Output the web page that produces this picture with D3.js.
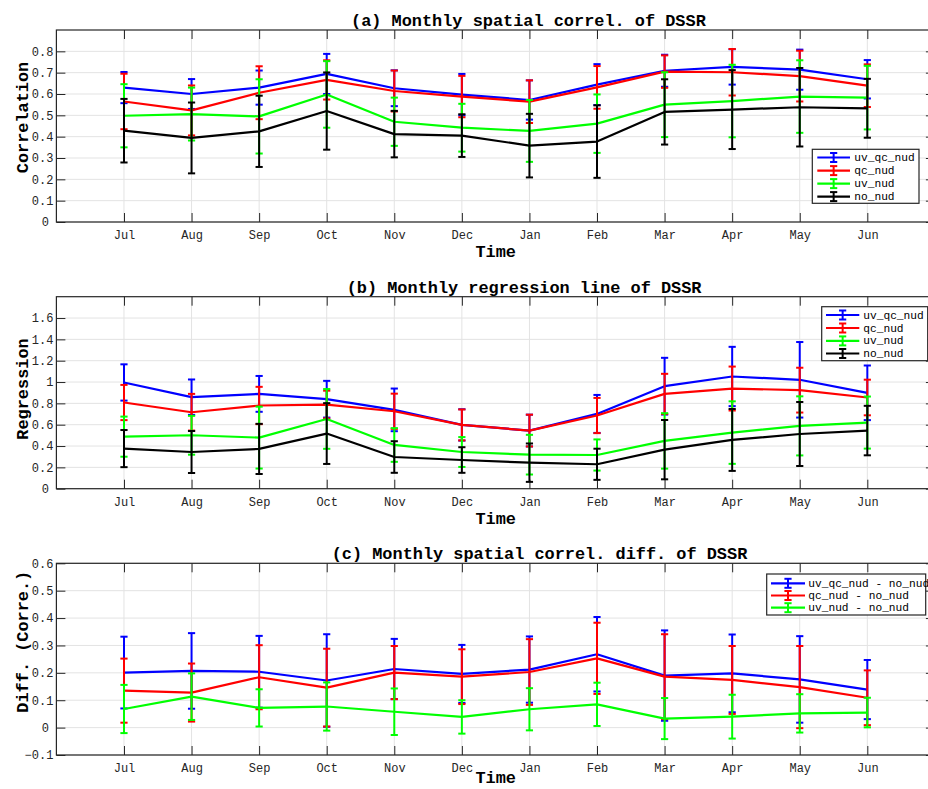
<!DOCTYPE html>
<html>
<head>
<meta charset="utf-8">
<script src="https://cdn.jsdelivr.net/npm/d3@7"></script>
<style>
  html, body { margin: 0; padding: 0; background: #fff; }
  svg { display: block; }
</style>
</head>
<body>
<svg id="chart" width="928" height="789"></svg>
<script>
// ---------------- data ----------------
const months = ["Jul","Aug","Sep","Oct","Nov","Dec","Jan","Feb","Mar","Apr","May","Jun"];

// (a) Monthly spatial correlation
const corrUvQcNud    = [0.630,0.600,0.630,0.694,0.627,0.597,0.572,0.644,0.709,0.727,0.714,0.669];
const corrUvQcNudErr = [0.073,0.070,0.080,0.094,0.084,0.097,0.092,0.096,0.075,0.083,0.094,0.090];
const corrQcNud      = [0.565,0.523,0.606,0.666,0.614,0.588,0.564,0.631,0.705,0.702,0.684,0.639];
const corrQcNudErr   = [0.130,0.117,0.124,0.092,0.096,0.097,0.100,0.100,0.076,0.109,0.119,0.100];
const corrUvNud      = [0.498,0.506,0.495,0.598,0.470,0.442,0.427,0.461,0.550,0.567,0.588,0.583];
const corrUvNudErr   = [0.148,0.124,0.174,0.156,0.113,0.112,0.145,0.137,0.152,0.170,0.170,0.149];
const corrNoNud      = [0.428,0.394,0.425,0.520,0.412,0.405,0.358,0.377,0.516,0.527,0.538,0.533];
const corrNoNudErr   = [0.149,0.166,0.167,0.181,0.109,0.100,0.149,0.170,0.153,0.185,0.184,0.138];

// (b) Monthly regression line
const regUvQcNud    = [0.996,0.858,0.889,0.839,0.739,0.598,0.545,0.701,0.961,1.052,1.021,0.899];
const regUvQcNudErr = [0.170,0.166,0.168,0.172,0.200,0.147,0.149,0.178,0.266,0.278,0.354,0.256];
const regQcNud      = [0.808,0.717,0.780,0.789,0.726,0.598,0.545,0.686,0.889,0.939,0.924,0.855];
const regQcNudErr   = [0.165,0.172,0.175,0.130,0.165,0.145,0.149,0.165,0.188,0.206,0.210,0.167];
const regUvNud      = [0.488,0.501,0.479,0.654,0.410,0.344,0.319,0.316,0.448,0.526,0.589,0.620];
const regUvNudErr   = [0.188,0.182,0.290,0.280,0.158,0.140,0.186,0.146,0.260,0.293,0.277,0.244];
const regNoNud      = [0.376,0.344,0.373,0.517,0.297,0.269,0.244,0.229,0.366,0.457,0.513,0.545];
const regNoNudErr   = [0.174,0.197,0.235,0.285,0.148,0.120,0.180,0.146,0.278,0.290,0.300,0.232];

// (c) Monthly spatial correlation difference
const diffUvQc    = [0.201,0.207,0.204,0.172,0.214,0.196,0.212,0.268,0.190,0.198,0.176,0.139];
const diffUvQcErr = [0.131,0.138,0.131,0.169,0.110,0.106,0.121,0.136,0.165,0.142,0.158,0.108];
const diffQc      = [0.135,0.128,0.184,0.146,0.201,0.186,0.203,0.253,0.186,0.174,0.148,0.109];
const diffQcErr   = [0.117,0.106,0.117,0.142,0.097,0.100,0.120,0.130,0.155,0.124,0.150,0.100];
const diffUv      = [0.068,0.113,0.072,0.077,0.058,0.039,0.067,0.085,0.033,0.040,0.052,0.055];
const diffUvErr   = [0.088,0.085,0.068,0.088,0.085,0.061,0.077,0.079,0.075,0.080,0.070,0.054];

const namesA = ["uv_qc_nud","qc_nud","uv_nud","no_nud"];
const namesC = ["uv_qc_nud - no_nud","qc_nud - no_nud","uv_nud - no_nud"];
const colorsA = ["#0000ff","#ff0000","#00ff00","#000000"];

const ticksA = [0,0.1,0.2,0.3,0.4,0.5,0.6,0.7,0.8];
const ticksB = [0,0.2,0.4,0.6,0.8,1,1.2,1.4,1.6];
const ticksC = [-0.1,0,0.1,0.2,0.3,0.4,0.5,0.6];

// ---------------- layout ----------------
const FONT = "'Liberation Mono','Courier New',monospace";
const svg = d3.select("#chart");
svg.append("rect").attr("width",928).attr("height",789).attr("fill","#fff");

const left = 56.4, right = 934.9;
const x = d3.scaleLinear().domain([0,13]).range([left,right]);

const panels = [
  { top:30, bottom:222, domain:[0,0.9], ticks:ticksA,
    title:"(a) Monthly spatial correl. of DSSR", titleX:351,
    ylabel:"Correlation", ylabelY:117.5, timeY:257.3,
    series:[[corrUvQcNud,corrUvQcNudErr],[corrQcNud,corrQcNudErr],[corrUvNud,corrUvNudErr],[corrNoNud,corrNoNudErr]],
    names:namesA, legend:{x0:812.3,x1:919,y0:149.3,y1:203.3,lx0:817.3,lx1:850,tx:854.3,ys:[157.5,170.6,183.6,196.6]} },
  { top:296.7, bottom:488.7, domain:[0,1.8], ticks:ticksB,
    title:"(b) Monthly regression line of DSSR", titleX:346.7,
    ylabel:"Regression", ylabelY:389, timeY:524,
    series:[[regUvQcNud,regUvQcNudErr],[regQcNud,regQcNudErr],[regUvNud,regUvNudErr],[regNoNud,regNoNudErr]],
    names:namesA, legend:{x0:821.7,x1:927.7,y0:306.7,y1:360.7,lx0:826,lx1:859.3,tx:863.3,ys:[315,328,340.9,353.5]} },
  { top:563.3, bottom:755, domain:[-0.1,0.6], ticks:ticksC,
    title:"(c) Monthly spatial correl. diff. of DSSR", titleX:331.7,
    ylabel:"Diff. (Corre.)", ylabelY:641.7, timeY:783,
    series:[[diffUvQc,diffUvQcErr],[diffQc,diffQcErr],[diffUv,diffUvErr]],
    names:namesC, legend:{x0:766.7,x1:925.7,y0:574,y1:615,lx0:771,lx1:805,tx:808.3,ys:[583.3,595.5,607.7]} }
];

const fmt = v => {
  if (Math.abs(v) < 1e-9) return "0";
  const s = d3.format("")(+v.toFixed(2));
  return s.replace("-", "\u2212");
};

panels.forEach(p => {
  const y = d3.scaleLinear().domain(p.domain).range([p.bottom,p.top]);
  const g = svg.append("g");
  const xt = d3.range(1,13);

  // grid
  g.append("g").selectAll("line").data(xt).join("line")
    .attr("x1",d=>x(d)).attr("x2",d=>x(d)).attr("y1",p.top).attr("y2",p.bottom)
    .attr("stroke","#e3e3e3").attr("stroke-width",1);
  g.append("g").selectAll("line").data(p.ticks).join("line")
    .attr("x1",left).attr("x2",right).attr("y1",d=>y(d)).attr("y2",d=>y(d))
    .attr("stroke","#e3e3e3").attr("stroke-width",1);

  // axes
  const styleAxis = sel => {
    sel.select(".domain").remove();
    sel.selectAll(".tick line").attr("stroke","#262626").attr("stroke-width",1);
    sel.selectAll("text").attr("font-family",FONT).attr("font-size",12).attr("fill","#262626");
  };
  g.append("g").attr("transform",`translate(0,${p.bottom})`)
    .call(d3.axisBottom(x).tickValues(xt).tickFormat(d=>months[d-1]).tickSize(-9).tickPadding(8.5))
    .call(styleAxis);
  g.append("g").attr("transform",`translate(0,${p.top})`)
    .call(d3.axisTop(x).tickValues(xt).tickFormat("").tickSize(-9)).call(styleAxis);
  const la = g.append("g").attr("transform",`translate(${left},0)`)
    .call(d3.axisLeft(y).tickValues(p.ticks).tickFormat(fmt).tickSize(-9).tickPadding(3))
    .call(styleAxis);
  la.selectAll(".tick text").filter(d=>Math.abs(d)<1e-9).attr("dx",-4.5);
  g.append("g").attr("transform",`translate(${right},0)`)
    .call(d3.axisRight(y).tickValues(p.ticks).tickFormat("").tickSize(-9)).call(styleAxis);

  // box
  g.append("rect").attr("x",left).attr("y",p.top).attr("width",right-left).attr("height",p.bottom-p.top)
    .attr("fill","none").attr("stroke","#262626").attr("stroke-width",1.2);

  // series
  const line = d3.line().x((d,i)=>x(i+1)).y(d=>y(d));
  p.series.forEach((s,k) => {
    const [vals, errs] = s;
    const col = colorsA[k];
    const sg = g.append("g");
    sg.append("path").attr("d",line(vals)).attr("fill","none").attr("stroke",col)
      .attr("stroke-width",2.2).attr("stroke-linejoin","round");
    const bars = sg.selectAll("g.eb").data(vals.map((v,i)=>({v,e:errs[i],i}))).join("g");
    bars.append("line").attr("x1",d=>x(d.i+1)).attr("x2",d=>x(d.i+1))
      .attr("y1",d=>y(d.v-d.e)).attr("y2",d=>y(d.v+d.e)).attr("stroke",col).attr("stroke-width",2);
    [-1,1].forEach(sgn => {
      bars.append("line").attr("x1",d=>x(d.i+1)-3.6).attr("x2",d=>x(d.i+1)+3.6)
        .attr("y1",d=>y(d.v+sgn*d.e)).attr("y2",d=>y(d.v+sgn*d.e))
        .attr("stroke",col).attr("stroke-width",2);
    });
  });

  // titles / labels
  svg.append("text").attr("x",p.titleX).attr("y",p.top-4).text(p.title)
    .attr("font-family",FONT).attr("font-weight","bold").attr("font-size",16.9).attr("fill","#000");
  svg.append("text").attr("x",(left+right)/2).attr("y",p.timeY).text("Time")
    .attr("text-anchor","middle").attr("font-family",FONT).attr("font-weight","bold")
    .attr("font-size",16.9).attr("fill","#000");
  svg.append("text").attr("transform",`translate(27.5,${p.ylabelY}) rotate(-90)`).text(p.ylabel)
    .attr("text-anchor","middle").attr("font-family",FONT).attr("font-weight","bold")
    .attr("font-size",16.9).attr("fill","#000");

  // legend
  const L = p.legend;
  const lg = svg.append("g");
  lg.append("rect").attr("x",L.x0).attr("y",L.y0).attr("width",L.x1-L.x0).attr("height",L.y1-L.y0)
    .attr("fill","#fff").attr("stroke","#262626").attr("stroke-width",1.2);
  p.names.forEach((nm,k) => {
    const yy = L.ys[k], col = colorsA[k], cx = (L.lx0+L.lx1)/2;
    lg.append("line").attr("x1",L.lx0).attr("x2",L.lx1).attr("y1",yy).attr("y2",yy)
      .attr("stroke",col).attr("stroke-width",2.2);
    lg.append("line").attr("x1",cx).attr("x2",cx).attr("y1",yy-4.5).attr("y2",yy+4.5)
      .attr("stroke",col).attr("stroke-width",2);
    [-4.5,4.5].forEach(o => lg.append("line").attr("x1",cx-3.6).attr("x2",cx+3.6)
      .attr("y1",yy+o).attr("y2",yy+o).attr("stroke",col).attr("stroke-width",2));
    lg.append("text").attr("x",L.tx).attr("y",yy).attr("dy","0.32em").text(nm)
      .attr("font-family",FONT).attr("font-size",11.2).attr("fill","#000");
  });
});
</script>
</body>
</html>
